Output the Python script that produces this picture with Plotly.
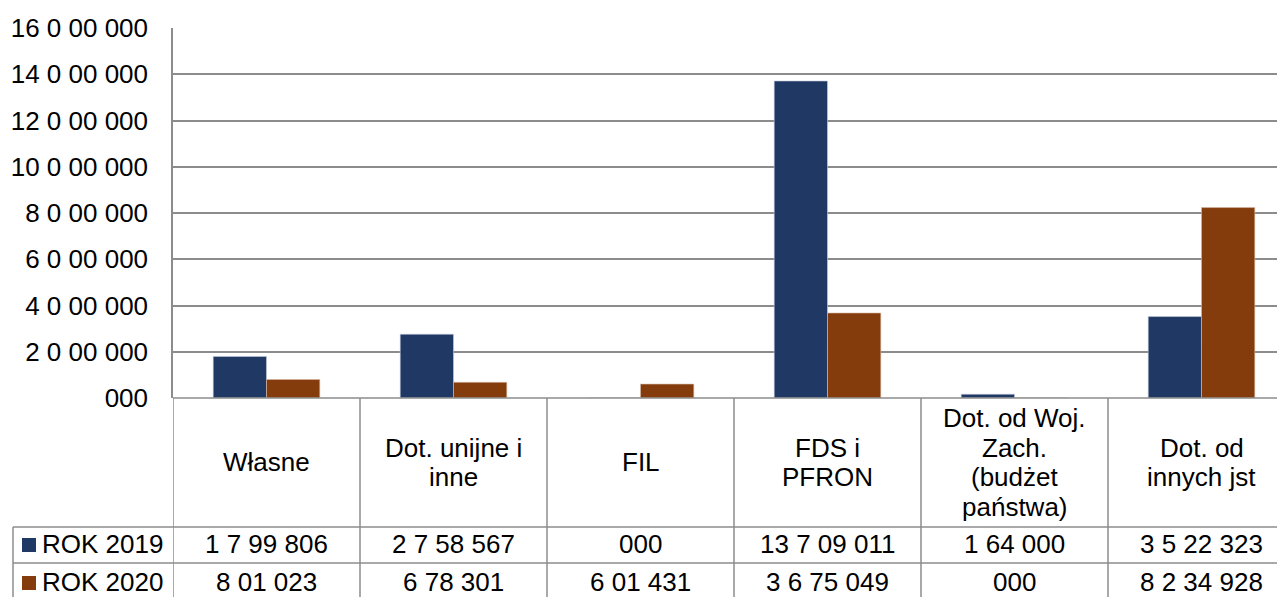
import plotly.graph_objects as go

categories = ["Własne", "Dot. unijne i\ninne", "FIL", "FDS i\nPFRON",
              "Dot. od Woj.\nZach.\n(budżet\npaństwa)", "Dot. od\ninnych jst"]
rok_2019 = [1799806, 2758567, 0, 13709011, 164000, 3522323]
rok_2020 = [801023, 678301, 601431, 3675049, 0, 8234928]
series_names = ["ROK 2019", "ROK 2020"]
tick_values = [0, 2000000, 4000000, 6000000, 8000000, 10000000, 12000000, 14000000, 16000000]

BLUE = "#203864"
ORANGE = "#843C0C"
GRID = "#8c8c8c"
FONT = "Liberation Sans, Arial, sans-serif"
FS = 26

# page is 1285x597, body has an 8px margin
OFF = 8
PAGE_W, PAGE_H = 1285, 597
# plot area in page pixels
L, R, T, B = 173, 1285, 28, 398


def fmt(v):
    # excel-like "# # ## 000" format
    s = str(int(v)).rjust(3, "0")
    parts = [s[-3:]]
    rest = s[:-3]
    if rest:
        parts.insert(0, rest[-2:])
        rest = rest[:-2]
    if rest:
        parts.insert(0, rest[-1:])
        rest = rest[:-1]
    if rest:
        parts.insert(0, rest)
    return " ".join(parts)


def px_x(p):
    return (p - L) / (R - L)


def px_y(p):
    return (B - p) / (B - T)


idx = list(range(len(categories)))

fig = go.Figure()
fig.add_trace(go.Bar(x=idx, y=rok_2019, name=series_names[0],
                     marker=dict(color=BLUE, line=dict(color="#c8cfe0", width=0.6))))
fig.add_trace(go.Bar(x=idx, y=rok_2020, name=series_names[1],
                     marker=dict(color=ORANGE, line=dict(color="#d9b9a6", width=0.6))))

shapes = []
line = dict(color=GRID, width=1.5)
# vertical table borders
for k in range(len(categories)):
    shapes.append(dict(type="line", xref="x", yref="paper", x0=k - 0.5, x1=k - 0.5,
                       y0=px_y(B), y1=px_y(600), line=line))
# bottom of plot / table top
shapes.append(dict(type="line", xref="paper", yref="paper", x0=0, x1=1,
                   y0=0, y1=0, line=line))
for yy in (527, 563):
    shapes.append(dict(type="line", xref="paper", yref="paper", x0=px_x(13), x1=1,
                       y0=px_y(yy), y1=px_y(yy), line=line))
shapes.append(dict(type="line", xref="paper", yref="paper", x0=px_x(13), x1=px_x(13),
                   y0=px_y(527), y1=px_y(600), line=line))

annotations = []
# category labels in table
line_h = 29.5
for k, cat in enumerate(categories):
    lines = cat.split("\n")
    y_start = 462.5 - line_h * (len(lines) - 1) / 2
    for j, txt in enumerate(lines):
        annotations.append(dict(x=k, xref="x", y=px_y(y_start + j * line_h), yref="paper",
                                text=txt, showarrow=False, xanchor="center", yanchor="middle",
                                font=dict(size=FS, color="black", family=FONT)))

# data rows
rows = [(rok_2019, BLUE, 544), (rok_2020, ORANGE, 582)]
for (vals, col, yc), name in zip(rows, series_names):
    shapes.append(dict(type="rect", xref="paper", yref="paper",
                       x0=px_x(22), x1=px_x(36), y0=px_y(yc - 6), y1=px_y(yc + 8),
                       fillcolor=col, line=dict(width=0)))
    annotations.append(dict(x=px_x(40), xref="paper", y=px_y(yc), yref="paper",
                            text=name, showarrow=False, xanchor="left", yanchor="middle",
                            font=dict(size=FS, color="black", family=FONT)))
    for k, v in enumerate(vals):
        annotations.append(dict(x=k, xref="x", y=px_y(yc), yref="paper",
                                text=fmt(v), showarrow=False, xanchor="center", yanchor="middle",
                                font=dict(size=FS, color="black", family=FONT)))

fig.update_layout(
    width=PAGE_W - OFF, height=PAGE_H - OFF,
    margin=dict(l=L - OFF, r=PAGE_W - R, t=T - OFF, b=PAGE_H - B, pad=0),
    paper_bgcolor="white", plot_bgcolor="white",
    barmode="group", bargap=0.43, bargroupgap=0,
    showlegend=False,
    font=dict(family=FONT, size=FS, color="black"),
    shapes=shapes, annotations=annotations,
)
fig.update_xaxes(range=[-0.5, -0.5 + (R - L) / 187], showticklabels=False,
                 showgrid=False, zeroline=False, fixedrange=True)
fig.update_yaxes(range=[0, 16000000], tickvals=tick_values,
                 ticktext=[fmt(v) for v in tick_values],
                 showgrid=True, gridcolor=GRID, gridwidth=1.5,
                 showline=True, linecolor=GRID, linewidth=1.5,
                 zeroline=False, ticks="", ticklabelstandoff=18,
                 tickfont=dict(size=FS, color="black", family=FONT))

fig.write_html("out.html", config={"displayModeBar": False})
